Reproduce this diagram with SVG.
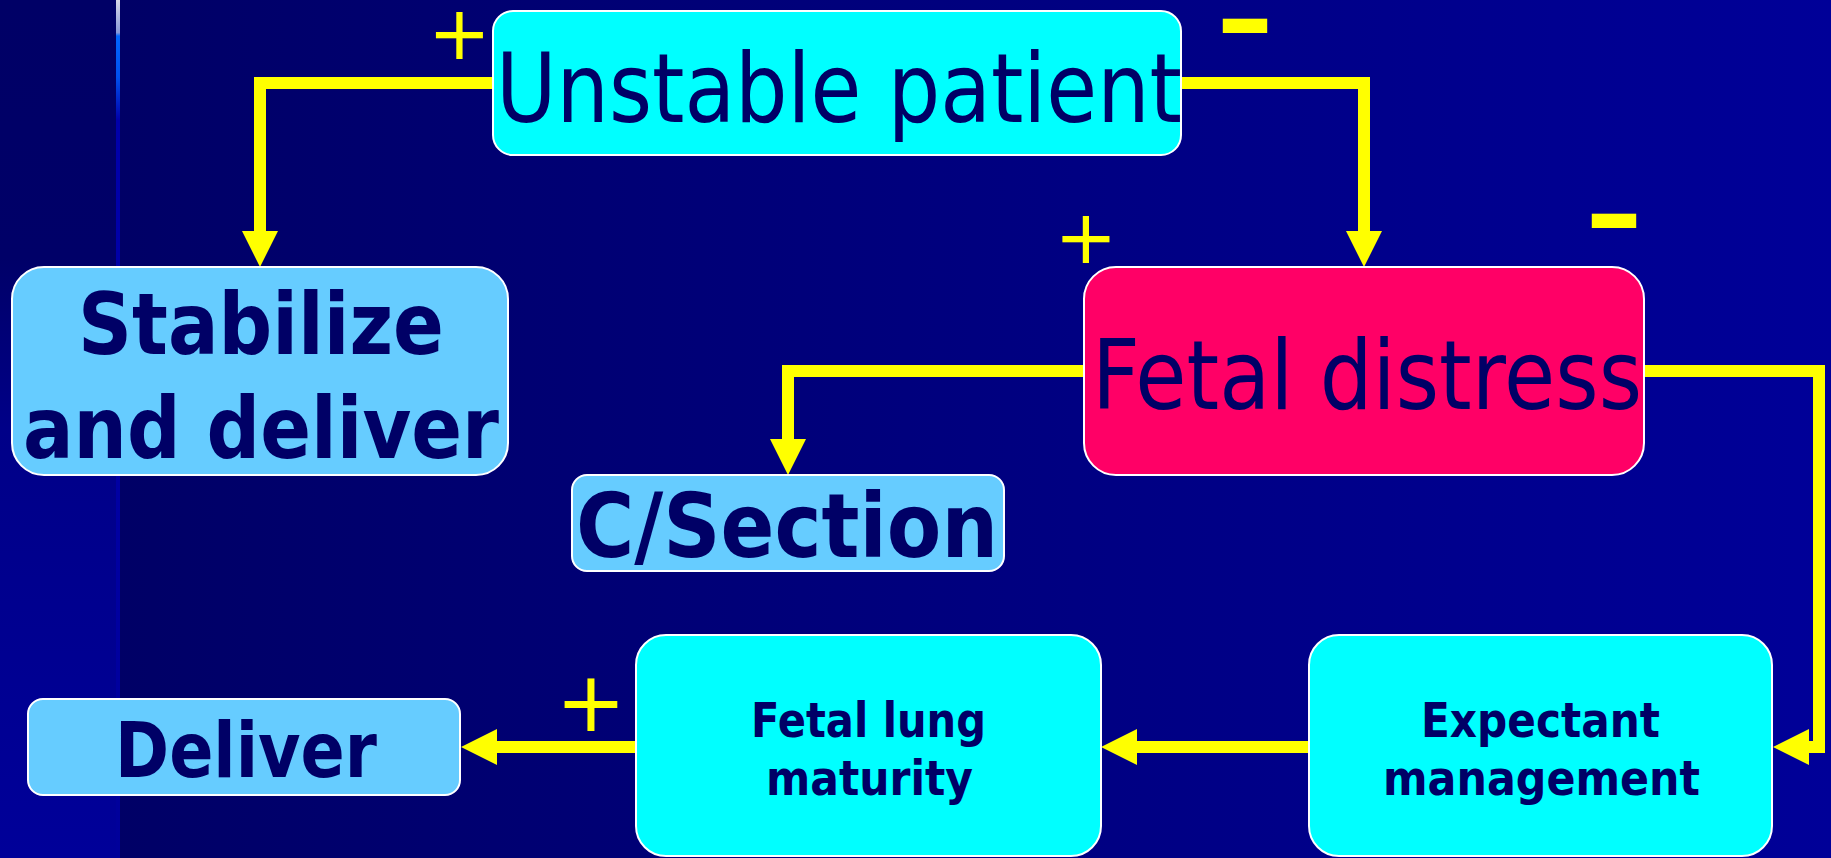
<svg xmlns="http://www.w3.org/2000/svg" width="1831" height="858" viewBox="0 0 1831 858">
  <defs>
    <linearGradient id="bgH" gradientUnits="userSpaceOnUse" x1="117" y1="0" x2="1831" y2="0">
      <stop offset="0" stop-color="#000066"/>
      <stop offset="1" stop-color="#000098"/>
    </linearGradient>
    <linearGradient id="stripV" gradientUnits="userSpaceOnUse" x1="0" y1="0" x2="0" y2="858">
      <stop offset="0" stop-color="#000066"/>
      <stop offset="0.3" stop-color="#000068"/>
      <stop offset="0.5" stop-color="#000088"/>
      <stop offset="1" stop-color="#000099"/>
    </linearGradient>
    <linearGradient id="lineV" gradientUnits="userSpaceOnUse" x1="0" y1="0" x2="0" y2="858">
      <stop offset="0" stop-color="#d8d8e8"/>
      <stop offset="0.038" stop-color="#8898d8"/>
      <stop offset="0.042" stop-color="#0066ff"/>
      <stop offset="0.09" stop-color="#0050ee"/>
      <stop offset="0.14" stop-color="#0000aa"/>
      <stop offset="1" stop-color="#00009a"/>
    </linearGradient>
    <marker id="arrow" markerUnits="userSpaceOnUse" markerWidth="36" markerHeight="36" refX="2" refY="18" orient="auto" viewBox="0 0 36 36">
      <path d="M0,0 L36,18 L0,36 Z" fill="#FFFF00"/>
    </marker>
    <style>
      .box { stroke: #FFFFFF; stroke-width: 2; }
      .cyan { fill: #00FFFF; }
      .sky { fill: #66CCFF; }
      .pink { fill: #FF0066; }
      .reg { font-family: "DejaVu Sans", Verdana, sans-serif; fill: #000066; }
      .bold { font-family: "DejaVu Sans", Verdana, sans-serif; font-weight: bold; fill: #000066; }
      .conn { fill: none; stroke: #FFFF00; stroke-width: 12; stroke-linejoin: miter; }
      .sign { font-family: "DejaVu Sans", Verdana, sans-serif; fill: #FFFF00; }
    </style>
  </defs>

  <!-- background -->
  <rect x="0" y="0" width="1831" height="858" fill="url(#bgH)"/>
  <rect x="0" y="0" width="117" height="858" fill="url(#stripV)"/>
  <rect x="116" y="0" width="4" height="858" fill="url(#lineV)"/>

  <!-- connectors -->
  <g id="connectors">
    <path class="conn" d="M493,83 H260 V233" marker-end="url(#arrow)"/>
    <path class="conn" d="M1181,83 H1364 V233" marker-end="url(#arrow)"/>
    <path class="conn" d="M1084,371 H788 V441" marker-end="url(#arrow)"/>
    <path class="conn" d="M1644,371 H1819 V747 H1807" marker-end="url(#arrow)"/>
    <path class="conn" d="M1309,747 H1135" marker-end="url(#arrow)"/>
    <path class="conn" d="M636,747 H495" marker-end="url(#arrow)"/>
  </g>

  <!-- nodes -->
  <g id="unstable-patient">
    <rect class="box cyan" x="493" y="11" width="688" height="144" rx="20" ry="20"/>
    <text class="reg" x="496" y="122" font-size="96" textLength="686" lengthAdjust="spacingAndGlyphs">Unstable patient</text>
  </g>

  <g id="stabilize-deliver">
    <rect class="box sky" x="12" y="267" width="496" height="208" rx="32" ry="32"/>
    <text class="bold" x="78" y="354" font-size="86" textLength="366" lengthAdjust="spacingAndGlyphs">Stabilize</text>
    <text class="bold" x="23" y="458" font-size="86" textLength="476" lengthAdjust="spacingAndGlyphs">and deliver</text>
  </g>

  <g id="fetal-distress">
    <rect class="box pink" x="1084" y="267" width="560" height="208" rx="32" ry="32"/>
    <text class="reg" x="1092" y="409" font-size="96" textLength="550" lengthAdjust="spacingAndGlyphs">Fetal distress</text>
  </g>

  <g id="c-section">
    <rect class="box sky" x="572" y="475" width="432" height="96" rx="15" ry="15"/>
    <text class="bold" x="576" y="557" font-size="89" textLength="422" lengthAdjust="spacingAndGlyphs">C/Section</text>
  </g>

  <g id="deliver">
    <rect class="box sky" x="28" y="699" width="432" height="96" rx="15" ry="15"/>
    <text class="bold" x="115" y="777" font-size="77" textLength="262" lengthAdjust="spacingAndGlyphs">Deliver</text>
  </g>

  <g id="fetal-lung-maturity">
    <rect class="box cyan" x="636" y="635" width="465" height="221" rx="30" ry="30"/>
    <text class="bold" x="751" y="737" font-size="48" textLength="235" lengthAdjust="spacingAndGlyphs">Fetal lung</text>
    <text class="bold" x="766" y="795" font-size="48" textLength="207" lengthAdjust="spacingAndGlyphs">maturity</text>
  </g>

  <g id="expectant-management">
    <rect class="box cyan" x="1309" y="635" width="463" height="221" rx="30" ry="30"/>
    <text class="bold" x="1421" y="737" font-size="48" textLength="239" lengthAdjust="spacingAndGlyphs">Expectant</text>
    <text class="bold" x="1383" y="795" font-size="48" textLength="317" lengthAdjust="spacingAndGlyphs">management</text>
  </g>

  <!-- signs -->
  <g id="signs">
    <text class="sign" x="459.5" y="59" font-size="75" text-anchor="middle">+</text>
    <text class="sign" x="1086" y="263" font-size="75" text-anchor="middle">+</text>
    <text class="sign" x="591" y="731" font-size="84" text-anchor="middle">+</text>
    <text class="sign" x="1215" y="55" font-size="100" font-weight="bold" textLength="60" lengthAdjust="spacingAndGlyphs">-</text>
    <text class="sign" x="1584" y="250" font-size="100" font-weight="bold" textLength="60" lengthAdjust="spacingAndGlyphs">-</text>
  </g>
</svg>
